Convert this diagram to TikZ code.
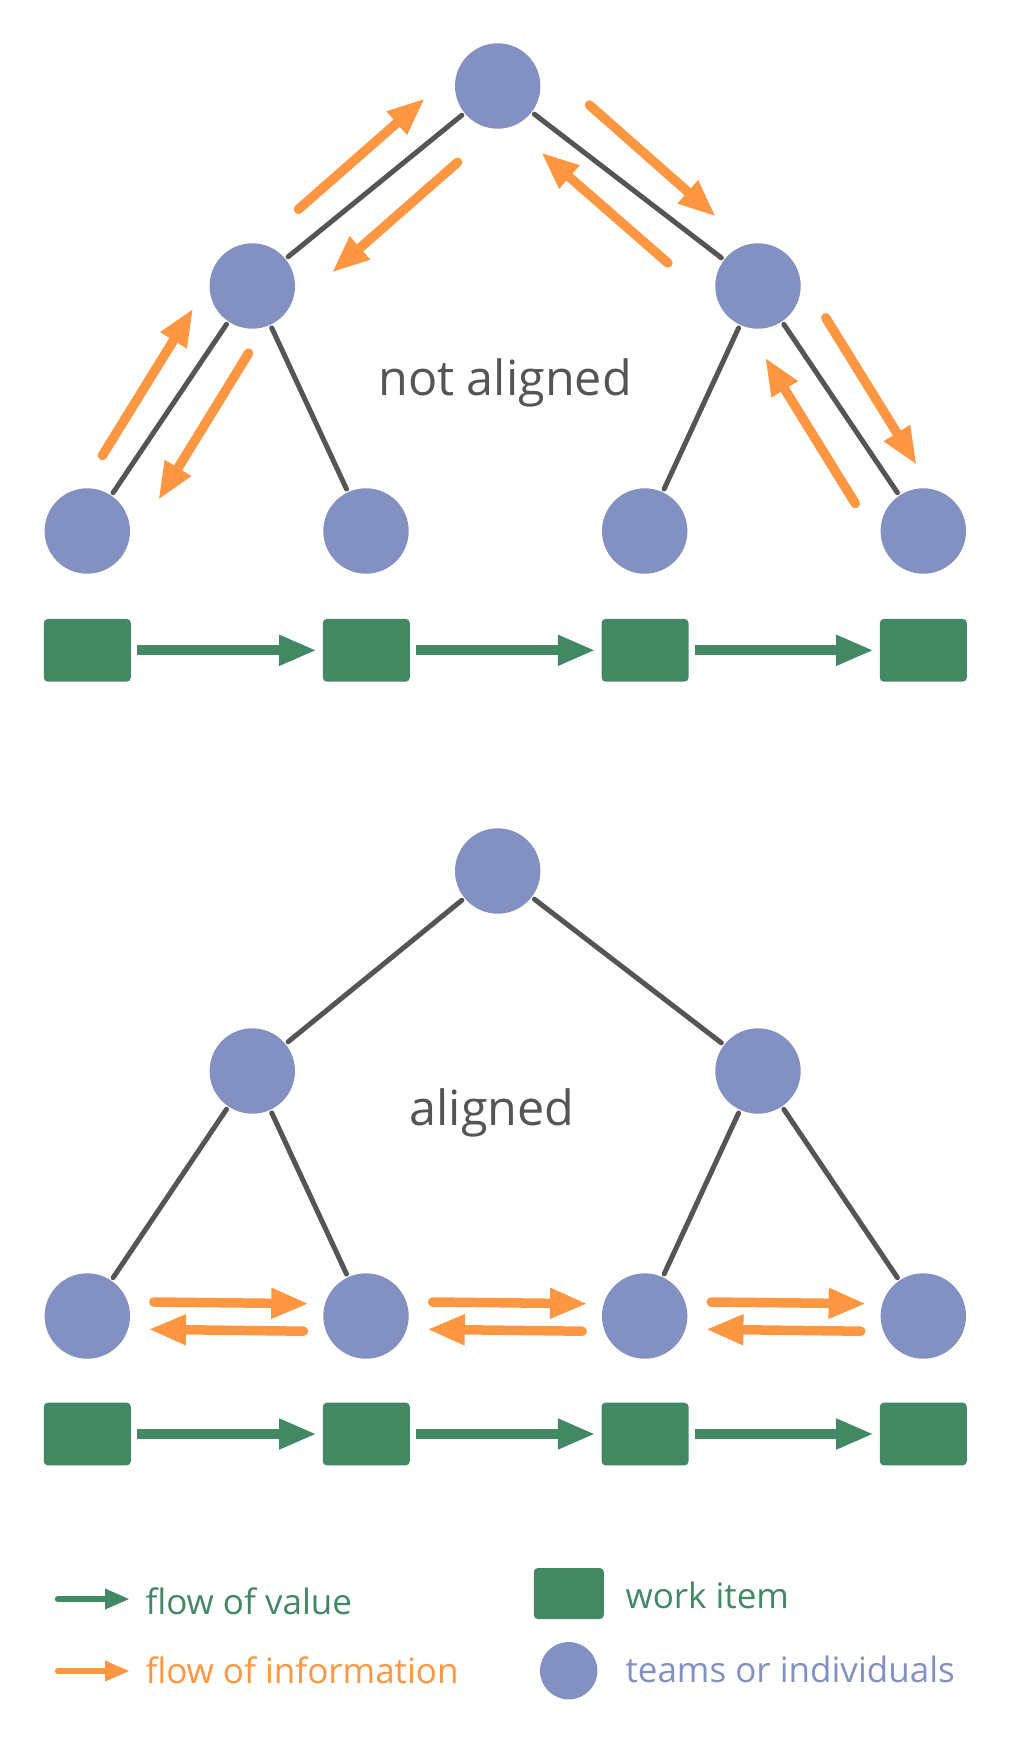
\documentclass[tikz,border=0pt]{standalone}
\usepackage{fontspec}
\setmainfont{Open Sans}
\usetikzlibrary{arrows.meta}
\definecolor{pblue}{HTML}{8291C1}
\definecolor{wgreen}{HTML}{418863}
\definecolor{iorange}{HTML}{FF9642}
\definecolor{tgray}{HTML}{555555}
\tikzset{
  person/.style={circle, fill=pblue, minimum size=85.4pt, inner sep=0pt, outer sep=0pt},
  workitem/.style={rectangle, fill=wgreen, rounded corners=4pt, minimum width=87pt, minimum height=62.7pt, inner sep=0pt, outer sep=0pt},
  tie/.style={draw=tgray, line width=5pt, line cap=round, shorten <=3.5pt, shorten >=3.5pt},
  info/.style={draw=iorange, line width=9.5pt, line cap=round, -{Triangle[length=37.7pt,width=28.3pt]}},
  valueflow/.style={draw=wgreen, line width=9.7pt, -{Triangle[length=37.7pt,width=28.3pt]}, shorten <=6pt, shorten >=6pt},
  legarrow/.style={line width=6.5pt, line cap=round, -{Triangle[length=25pt,width=19pt]}},
  bigtext/.style={anchor=base, text=tgray, font=\fontsize{48.5pt}{58pt}\selectfont},
  legtext/.style={anchor=base west, font=\fontsize{35pt}{42pt}\selectfont},
}
\begin{document}
\begin{tikzpicture}[x=1pt, y=-1pt]
\useasboundingbox (0,0) rectangle (1011,1749);

% ---------- not aligned ----------
\node[person] (top) at (497.7,86) {};
\node[person] (ml) at (252.3,286) {};
\node[person] (mr) at (758,286) {};
\node[person] (b1) at (87.3,531) {};
\node[person] (b2) at (366,531) {};
\node[person] (b3) at (644.7,531) {};
\node[person] (b4) at (923.3,531) {};
\node[workitem] (s1) at (87.3,650.3) {};
\node[workitem] (s2) at (366.3,650.3) {};
\node[workitem] (s3) at (645,650.3) {};
\node[workitem] (s4) at (923.3,650.3) {};
\node[bigtext] (na) at (505,395.7) {not aligned};

\draw[tie] (top) -- (ml);
\draw[tie] (top) -- (mr);
\draw[tie] (ml) -- (b1);
\draw[tie] (ml) -- (b2);
\draw[tie] (mr) -- (b3);
\draw[tie] (mr) -- (b4);

\draw[info] ([shift={(46.1,-76.7)}]ml.center) -- ([shift={(-72.7,12.3)}]top.center);
\draw[info] ([shift={(-40.1,76.3)}]top.center) -- ([shift={(79.4,-13.3)}]ml.center);
\draw[info] ([shift={(91.7,19)}]top.center) -- ([shift={(-42,-69.3)}]mr.center);
\draw[info] ([shift={(-90.1,-23)}]mr.center) -- ([shift={(43.3,66.3)}]top.center);
\draw[info] ([shift={(15.1,-75.5)}]b1.center) -- ([shift={(-59,22.3)}]ml.center);
\draw[info] ([shift={(-3.7,67.1)}]ml.center) -- ([shift={(71,-31)}]b1.center);
\draw[info] ([shift={(67.7,31.8)}]mr.center) -- ([shift={(-6.6,-66)}]b4.center);
\draw[info] ([shift={(-68,-27.5)}]b4.center) -- ([shift={(7,71.3)}]mr.center);

\draw[valueflow] (s1) -- (s2);
\draw[valueflow] (s2) -- (s3);
\draw[valueflow] (s3) -- (s4);

% ---------- aligned ----------
\node[person] (Top) at (497.7,871) {};
\node[person] (Ml) at (252.3,1071) {};
\node[person] (Mr) at (758,1071) {};
\node[person] (B1) at (87.3,1316) {};
\node[person] (B2) at (366,1316) {};
\node[person] (B3) at (644.7,1316) {};
\node[person] (B4) at (923.3,1316) {};
\node[workitem] (S1) at (87.3,1434) {};
\node[workitem] (S2) at (366.3,1434) {};
\node[workitem] (S3) at (645,1434) {};
\node[workitem] (S4) at (923.3,1434) {};
\node[bigtext] (al) at (492,1125.7) {aligned};

\draw[tie] (Top) -- (Ml);
\draw[tie] (Top) -- (Mr);
\draw[tie] (Ml) -- (B1);
\draw[tie] (Ml) -- (B2);
\draw[tie] (Mr) -- (B3);
\draw[tie] (Mr) -- (B4);

\foreach \a/\b in {B1/B2, B2/B3, B3/B4}{
  \draw[info] ([shift={(66.5,-14)}]\a.center) -- ([shift={(-57,-12.3)}]\b.center);
  \draw[info] ([shift={(-62.5,15.2)}]\b.center) -- ([shift={(61,13.3)}]\a.center);
}

\draw[valueflow] (S1) -- (S2);
\draw[valueflow] (S2) -- (S3);
\draw[valueflow] (S3) -- (S4);

% ---------- legend ----------
\coordinate (lv0) at (58,1599);
\coordinate (lv1) at (130,1599);
\coordinate (li0) at (58,1671);
\coordinate (li1) at (130,1671);
\draw[legarrow, draw=wgreen, fill=wgreen] (lv0) -- (lv1);
\draw[legarrow, draw=iorange, fill=iorange] (li0) -- (li1);
\node[legtext, text=wgreen] (tv) at (142,1614.3) {flow of value};
\node[legtext, text=iorange] (ti) at (142,1683.3) {flow of information};
\node[workitem, minimum width=70pt, minimum height=51pt] (lsq) at (568.8,1593.5) {};
\node[person, minimum size=57.4pt] (lci) at (568.7,1670.7) {};
\node[legtext, text=wgreen] (tw) at (622,1608.7) {work item};
\node[legtext, text=pblue] (tt) at (622,1682.7) {teams or individuals};
\end{tikzpicture}
\end{document}
